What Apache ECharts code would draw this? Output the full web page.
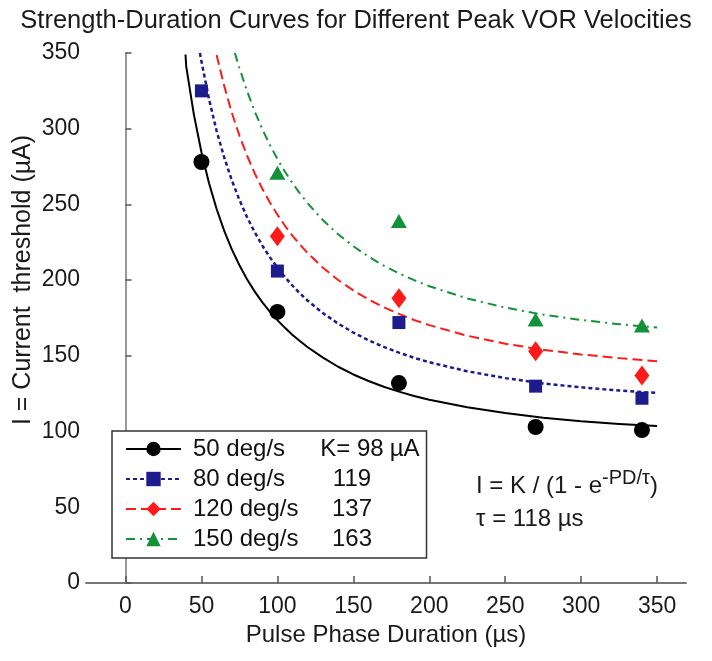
<!DOCTYPE html>
<html>
<head>
<meta charset="utf-8">
<script src="https://cdn.jsdelivr.net/npm/echarts@6/dist/echarts.min.js"></script>
<style>
html,body{margin:0;padding:0;background:#fff;}
#chart{width:712px;height:661px;}
</style>
</head>
<body>
<div id="chart"></div>
<script>
// ---- data ----
const seriesNames = ['50 deg/s', '80 deg/s', '120 deg/s', '150 deg/s'];
const kLabels = ['K= 98', '119', '137', '163'];
const xTicks = [0, 50, 100, 150, 200, 250, 300, 350];

const pointsX = [50, 100, 180, 270, 340];
const points50 = [278, 179, 132, 103, 101];
const points80 = [325, 206, 172, 130, 122];
const points120 = [null, 229, 188, 153, 137];
const points150 = [null, 271, 239, 174, 170];

const curveX50 = [39.5, 40, 45, 50, 55, 60, 65, 70, 75, 80, 85, 90, 95, 100, 105, 110, 115, 120, 130, 140, 150, 160, 170, 180, 190, 200, 225, 250, 275, 300, 325, 350];
const curve50 = [349, 341, 309.5, 284.5, 264, 247, 232.5, 220.3, 209.8, 200.6, 192.6, 185.5, 179.2, 173.6, 168.5, 163.8, 159.6, 155.7, 148.8, 142.8, 137.7, 133.4, 129.6, 126.4, 123.5, 121, 116, 112.2, 109.2, 106.8, 105, 103.6];
const curveX80 = [49, 50, 55, 60, 65, 70, 75, 80, 85, 90, 95, 100, 105, 110, 115, 120, 130, 140, 150, 160, 170, 180, 190, 200, 225, 250, 275, 300, 325, 350];
const curve80 = [350, 344.5, 319.5, 298.5, 281, 265.9, 253, 241.7, 231.8, 223, 215.2, 208.3, 202, 196.3, 191.1, 186.4, 178.2, 171.3, 165.4, 160.3, 155.9, 152.1, 148.7, 145.8, 139.8, 135.3, 131.8, 129.2, 127.1, 125.5];
const curveX120 = [60, 65, 70, 75, 80, 85, 90, 95, 100, 105, 110, 115, 120, 130, 140, 150, 160, 170, 180, 190, 200, 225, 250, 275, 300, 325, 350];
const curve120 = [348.7, 328.2, 310.6, 295.5, 282.3, 270.7, 260.5, 251.4, 243.3, 235.9, 229.3, 223.3, 217.8, 208.2, 200.1, 193.2, 187.3, 182.1, 177.7, 173.7, 170.3, 163.3, 158, 154, 150.9, 148.5, 146.5];
const curveX150 = [72, 75, 80, 85, 90, 95, 100, 105, 110, 115, 120, 130, 140, 150, 160, 170, 180, 190, 200, 225, 250, 275, 300, 325, 350];
const curve150 = [350, 340.1, 325, 311.6, 299.9, 289.4, 280, 271.6, 263.9, 257, 250.7, 239.6, 230.3, 222.4, 215.5, 209.6, 204.5, 200, 196, 187.9, 181.9, 177.2, 173.7, 170.9, 168.7];

// ---- build ----
const FONT = "'Liberation Sans', Arial, Helvetica, sans-serif";
const colors = ['#000000', '#1c1c8c', '#ff1a1a', '#139138'];
const symbols = ['circle', 'rect', 'diamond', 'triangle'];
const symSizes = [16, 13, [15, 20], [16, 14]];
const dashes = ['solid', [4, 3], [10, 5], [9, 5, 2, 5]];
const widths = [2, 2.5, 2, 2];
const curvesX = [curveX50, curveX80, curveX120, curveX150];
const curvesY = [curve50, curve80, curve120, curve150];
const pointsY = [points50, points80, points120, points150];

function pairs(xs, ys) {
  const out = [];
  for (let i = 0; i < xs.length; i++) if (ys[i] != null) out.push([xs[i], ys[i]]);
  return out;
}

const series = [];
seriesNames.forEach((name, i) => {
  series.push({
    name: name,
    type: 'line',
    data: pairs(curvesX[i], curvesY[i]),
    smooth: false,
    symbol: symbols[i],
    showSymbol: false,
    color: colors[i],
    itemStyle: { color: colors[i] },
    lineStyle: { color: colors[i], width: widths[i], type: dashes[i], join: 'round' },
    clip: true,
    silent: true,
    z: 2
  });
});
seriesNames.forEach((name, i) => {
  series.push({
    name: name + ' data',
    type: 'scatter',
    data: pairs(pointsX, pointsY[i]),
    symbol: symbols[i],
    symbolSize: symSizes[i],
    itemStyle: { color: colors[i], opacity: 1 },
    silent: true,
    z: 3
  });
});

const chart = echarts.init(document.getElementById('chart'), null, { renderer: 'canvas' });
chart.setOption({
  animation: false,
  backgroundColor: '#ffffff',
  textStyle: { fontFamily: FONT },
  title: {
    text: 'Strength-Duration Curves for Different Peak VOR Velocities',
    left: 'center',
    top: 3,
    textStyle: { fontFamily: FONT, fontSize: 25.5, fontWeight: 'normal', color: '#1a1a1a' }
  },
  grid: { left: 86, right: 26, top: 53, bottom: 78, containLabel: false },
  xAxis: {
    type: 'value',
    min: -26,
    max: 369,
    name: 'Pulse Phase Duration (µs)',
    nameLocation: 'middle',
    nameGap: 38,
    nameTextStyle: { fontFamily: FONT, fontSize: 24, color: '#1a1a1a' },
    axisLine: { show: true, onZero: false, lineStyle: { color: '#777', width: 2 } },
    axisTick: { show: true, inside: true, length: 7, customValues: xTicks, lineStyle: { color: '#555', width: 1.5 } },
    axisLabel: { customValues: xTicks, fontFamily: FONT, fontSize: 23, color: '#1a1a1a', margin: 12 },
    splitLine: { show: false }
  },
  yAxis: {
    type: 'value',
    min: 0,
    max: 350,
    interval: 50,
    axisLine: { show: true, lineStyle: { color: '#999', width: 2 } },
    axisTick: { show: true, inside: true, length: 6, lineStyle: { color: '#555', width: 1.5 } },
    axisLabel: { fontFamily: FONT, fontSize: 23, color: '#1a1a1a', margin: 6 },
    splitLine: { show: false }
  },
  legend: {
    data: seriesNames,
    orient: 'vertical',
    left: 112,
    top: 431,
    itemWidth: 55,
    itemHeight: 18,
    itemGap: 6,
    padding: [6, 7, 7, 13],
    borderColor: '#333',
    borderWidth: 1.5,
    backgroundColor: '#fff',
    selectedMode: false,
    formatter: function (name) {
      const i = seriesNames.indexOf(name);
      return '{n|' + name + '}{k|' + kLabels[i] + '}{u|' + (i === 0 ? ' µA' : '') + '}';
    },
    textStyle: {
      fontFamily: FONT, fontSize: 24, color: '#111', lineHeight: 24,
      rich: {
        n: { fontFamily: FONT, fontSize: 24, lineHeight: 24, width: 128, padding: [0, 0, 0, 7], color: '#111' },
        k: { fontFamily: FONT, fontSize: 24, lineHeight: 24, width: 62, align: 'right', color: '#111' },
        u: { fontFamily: FONT, fontSize: 24, lineHeight: 24, color: '#111' }
      }
    }
  },
  graphic: [
    {
      type: 'text',
      x: 23,
      y: 280,
      rotation: Math.PI / 2,
      style: {
        text: 'I = Current  threshold (µA)',
        fontFamily: FONT, fontSize: 25, fill: '#1a1a1a',
        align: 'center', verticalAlign: 'middle'
      }
    },
    {
      type: 'text',
      left: 476,
      top: 468,
      style: {
        text: '{m|I = K / (1 - e}{s|-PD/τ}{m|)}',
        fontFamily: FONT, fontSize: 24, fill: '#1a1a1a',
        rich: {
          m: { fontFamily: FONT, fontSize: 24, lineHeight: 26, fill: '#1a1a1a' },
          s: { fontFamily: FONT, fontSize: 20, lineHeight: 20, padding: [0, 0, 16, 0], fill: '#1a1a1a' }
        }
      }
    },
    {
      type: 'text',
      left: 476,
      top: 507,
      style: {
        text: 'τ = 118 µs',
        fontFamily: FONT, fontSize: 24, fill: '#1a1a1a'
      }
    }
  ],
  series: series
});
</script>
</body>
</html>
